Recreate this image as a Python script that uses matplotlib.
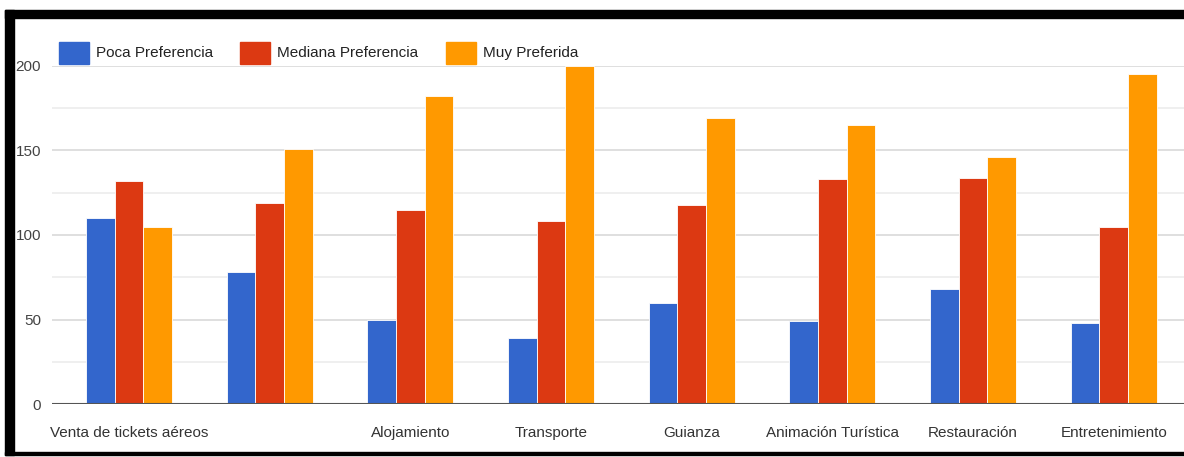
import matplotlib
matplotlib.use('Agg')
import matplotlib.pyplot as plt
from matplotlib.patches import Rectangle
import numpy as np

plt.rcParams['font.family'] = ['Liberation Sans', 'DejaVu Sans']

categories = ["Venta de tickets aéreos", "", "Alojamiento", "Transporte",
              "Guianza", "Animación Turística", "Restauración", "Entretenimiento"]
series_names = ["Poca Preferencia", "Mediana Preferencia", "Muy Preferida"]
poca = [110, 78, 50, 39, 60, 49, 68, 48]
mediana = [132, 119, 115, 108, 118, 133, 134, 105]
muy = [105, 151, 182, 200, 169, 165, 146, 195]
colors = ["#3366cc", "#dc3912", "#ff9900"]

W, H = 1184, 457
fig = plt.figure(figsize=(W / 100, H / 100), dpi=100)
fig.patch.set_facecolor('white')

ax = fig.add_axes([52 / W, 1 - 404 / H, 1 - 52 / W, (404 - 66) / H])
x = np.arange(len(categories))
bw = 0.204
for i, (vals, c) in enumerate(zip([poca, mediana, muy], colors)):
    ax.bar(x + (i - 1) * bw, vals, width=bw, color=c, edgecolor='white',
           linewidth=0.6, zorder=3, label=series_names[i])

ax.set_ylim(0, 200)
ax.set_xlim(-0.548, 7.5)
ax.set_yticks([0, 50, 100, 150, 200])
ax.set_yticks([25, 75, 125, 175], minor=True)
ax.grid(axis='y', which='major', color='#d9d9d9', linewidth=1.2, zorder=0)
ax.grid(axis='y', which='minor', color='#ececec', linewidth=1.2, zorder=0)
ax.axhline(0, color='#555555', linewidth=1.5, zorder=4)
for s in ax.spines.values():
    s.set_visible(False)
ax.set_xticks(x)
ax.set_xticklabels(categories, fontsize=11, color='#333333')
ax.tick_params(axis='x', length=0, pad=16)
ax.tick_params(axis='y', which='both', length=0, pad=8, labelsize=11,
               labelcolor='#444444')

# legend drawn by hand to follow the reference placement
leg_items = [(59, 96), (240, 277), (446, 483)]
for (sx, tx), name, c in zip(leg_items, series_names, colors):
    fig.patches.append(Rectangle((sx / W, 1 - 64 / H), 30 / W, 22 / H,
                                 transform=fig.transFigure, color=c, zorder=5))
    fig.text(tx / W, 1 - 53 / H, name, fontsize=11, color='#222222',
             va='center', ha='left')

# black frame around the screenshot
fig.patches.append(Rectangle((5 / W, 1 - 18 / H), 1 - 5 / W, 8 / H,
                             transform=fig.transFigure, color='black', zorder=10))
fig.patches.append(Rectangle((5 / W, 1 - 455 / H), 9 / W, (455 - 10) / H,
                             transform=fig.transFigure, color='black', zorder=10))
fig.patches.append(Rectangle((5 / W, 1 - 455 / H), 1 - 5 / W, 3 / H,
                             transform=fig.transFigure, color='black', zorder=10))

fig.savefig('out.png', dpi=100)
